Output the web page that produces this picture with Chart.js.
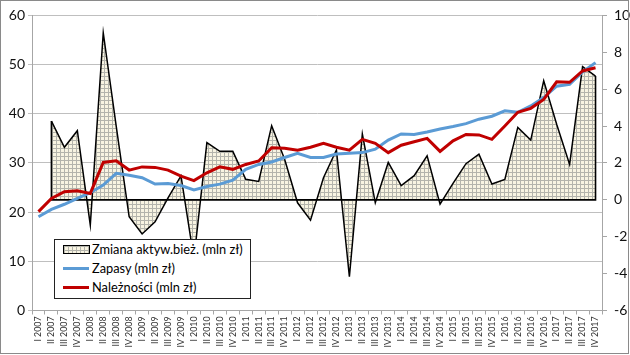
<!DOCTYPE html>
<html><head><meta charset="utf-8">
<script src="https://cdn.jsdelivr.net/npm/chart.js@4/dist/chart.umd.min.js"></script>
<style>
html,body{margin:0;padding:0;background:#fff;}
#wrap{position:relative;width:630px;height:355px;overflow:hidden;background:#fff;}
#frame{position:absolute;left:0;top:0;width:627px;height:352px;border:1px solid #8a8a8a;pointer-events:none;}
#legend{position:absolute;left:54px;top:239px;width:195px;height:58px;border:1px solid #222;background:#fff;font-family:Lato,'Open Sans',sans-serif;font-size:12.8px;color:#000;}
.row{position:absolute;left:37px;height:16px;line-height:16px;white-space:nowrap;}
.sw{position:absolute;left:8px;width:26px;}
.hatch{height:7px;border:1px solid #000;width:25px;background-color:#f8f4e2;background-image:linear-gradient(#b4b4ac 1px,transparent 1px),linear-gradient(90deg,#b4b4ac 1px,transparent 1px);background-size:4px 4px;}
.ln{height:3px;}
</style></head>
<body>
<div id="wrap">
<canvas id="c" width="630" height="355"></canvas>
<div id="legend">
  <div class="sw hatch" style="top:5px"></div><div class="row" style="top:1px">Zmiana aktyw.bież. (mln zł)</div>
  <div class="sw ln" style="top:27px;background:#5B9BD5"></div><div class="row" style="top:20px">Zapasy (mln zł)</div>
  <div class="sw ln" style="top:46px;background:#C00000"></div><div class="row" style="top:39px">Należności (mln zł)</div>
</div>
<div id="frame"></div>
</div>
<script>
const labels = ["I 2007","II 2007","III 2007","IV 2007","I 2008","II 2008","III 2008","IV 2008",
"I 2009","II 2009","III 2009","IV 2009","I 2010","II 2010","III 2010","IV 2010",
"I 2011","II 2011","III 2011","IV 2011","I 2012","II 2012","III 2012","IV 2012",
"I 2013","II 2013","III 2013","IV 2013","I 2014","II 2014","III 2014","IV 2014",
"I 2015","II 2015","III 2015","IV 2015","I 2016","II 2016","III 2016","IV 2016",
"I 2017","II 2017","III 2017","IV 2017"];

const zmiana = [null,4.27,2.85,3.75,-1.37,9.06,4.0,-0.92,
-1.85,-1.19,0.1,1.3,-3.2,3.1,2.63,2.63,
1.11,1.0,4.02,2.2,-0.16,-1.1,1.2,2.7,
-4.17,3.57,-0.16,2.03,0.77,1.31,2.39,-0.23,
0.89,1.96,2.48,0.86,1.11,3.93,3.24,6.46,
4.1,1.92,7.22,6.71];

const zapasy = [19.06,20.57,21.6,22.8,23.95,25.5,27.9,27.5,
27.0,25.7,25.8,25.4,24.5,25.2,25.7,26.5,
28.7,29.7,30.2,31.1,31.95,31.1,31.1,31.8,
31.95,32.1,32.8,34.65,35.9,35.8,36.3,36.9,
37.4,38.0,38.9,39.5,40.6,40.3,41.6,43.3,
45.6,46.0,48.5,50.4];

const naleznosci = [20.1,22.8,24.15,24.35,23.8,30.1,30.45,28.55,
29.2,29.1,28.55,27.3,26.4,28.0,29.2,28.7,
29.7,30.4,33.1,33.0,32.6,33.2,34.0,33.2,
32.6,34.8,34.0,32.1,33.6,34.3,35.0,32.35,
34.5,35.8,35.7,34.8,37.5,40.3,41.1,42.9,
46.5,46.4,48.7,49.35];

const seriesNames = ["Zmiana aktyw.bież. (mln zł)","Zapasy (mln zł)","Należności (mln zł)"];

// hatch pattern
const pc = document.createElement('canvas'); pc.width=4; pc.height=4;
const px = pc.getContext('2d');
px.fillStyle='#f8f4e2'; px.fillRect(0,0,4,4);
px.fillStyle='#b4b4ac'; px.fillRect(0,0,4,1); px.fillRect(0,0,1,4);
const ctx = document.getElementById('c').getContext('2d');
const hatch = ctx.createPattern(pc,'repeat');

const areaEdges = {
  id:'areaEdges',
  afterDatasetDraw(chart,args){
    if(args.index!==0) return;
    const d = chart.data.datasets[0].data;
    let f = d.findIndex(v=>v!=null), l = d.length-1;
    while(d[l]==null) l--;
    const x = chart.scales.x, y = chart.scales.y1, c = chart.ctx;
    c.save(); c.strokeStyle='#000'; c.lineWidth=1.6; c.beginPath();
    c.moveTo(x.getPixelForValue(f), y.getPixelForValue(d[f]));
    c.lineTo(x.getPixelForValue(f), y.getPixelForValue(0));
    c.lineTo(x.getPixelForValue(l), y.getPixelForValue(0));
    c.lineTo(x.getPixelForValue(l), y.getPixelForValue(d[l]));
    c.stroke(); c.restore();
  }
};

const FONT = 'Lato, "Open Sans", sans-serif';
new Chart(ctx,{
  type:'line',
  data:{labels,
    datasets:[
      {label:seriesNames[0],data:zmiana,yAxisID:'y1',fill:'origin',backgroundColor:hatch,borderColor:'#000',borderWidth:1.5,pointRadius:0,tension:0,order:3},
      {label:seriesNames[1],data:zapasy,yAxisID:'y',fill:false,borderColor:'#5B9BD5',borderWidth:3,pointRadius:0,tension:0,order:2},
      {label:seriesNames[2],data:naleznosci,yAxisID:'y',fill:false,borderColor:'#C00000',borderWidth:3,pointRadius:0,tension:0,order:1}
    ]},
  options:{
    responsive:false, animation:false, devicePixelRatio:1,
    layout:{padding:{top:15,left:0,right:0,bottom:0}},
    plugins:{legend:{display:false},tooltip:{enabled:false}},
    scales:{
      x:{offset:true,
        grid:{offset:true,drawOnChartArea:false,drawTicks:true,tickLength:4,color:'#a6a6a6'},
        border:{color:'#a6a6a6'},
        ticks:{autoSkip:false,maxRotation:90,minRotation:90,padding:2,font:{size:8.8,family:FONT},color:'#333'},
        afterFit:s=>{s.height=44.5;}},
      y:{position:'left',min:0,max:60,
        ticks:{stepSize:10,padding:3,font:{size:14,family:FONT},color:'#111'},
        grid:{color:'#bfbfbf',tickLength:4},
        border:{color:'#a6a6a6'},
        afterFit:s=>{s.width=32;}},
      y1:{position:'right',min:-6,max:10,
        ticks:{stepSize:2,padding:7,font:{size:14,family:FONT},color:'#111'},
        grid:{drawOnChartArea:false,tickLength:5,color:'#a6a6a6'},
        border:{color:'#a6a6a6'},
        afterFit:s=>{s.width=28;}}
    }
  },
  plugins:[areaEdges]
});
</script>
</body></html>
